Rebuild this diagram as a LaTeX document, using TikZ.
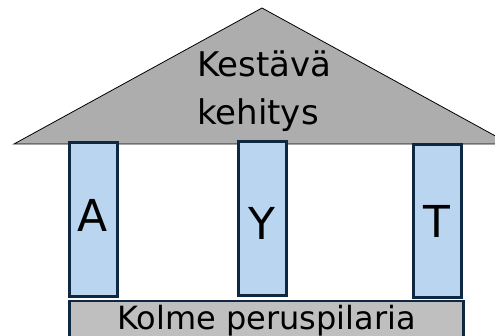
\documentclass[tikz,border=0pt]{standalone}
\usepackage{fontspec}
\setmainfont{DejaVu Sans}
\usetikzlibrary{positioning}
\definecolor{pillarblue}{HTML}{B9D5F0}
\definecolor{navyline}{HTML}{0E2841}
\definecolor{roofgray}{HTML}{ADADAD}
\definecolor{basegray}{HTML}{BFBFBF}
\tikzset{
    pillar/.style={
        rectangle, minimum width=48pt, minimum height=154pt, draw=navyline, line width=3pt, fill=pillarblue
    },
    letter/.style={
        inner sep=0pt, font=\fontsize{44}{44}\selectfont
    },
    foundation/.style={
        rectangle, minimum width=394pt, minimum height=40pt, draw=navyline, line width=2.5pt, fill=basegray, font=\fontsize{32}{32}\selectfont
    }
}

\begin{document}
\begin{tikzpicture}[x=1pt, y=-1pt]

    \useasboundingbox (0,0) rectangle (495,336);
    \clip (0,0) rectangle (495,336);

    % Roof
    \draw[fill=roofgray, line width=0.8pt] (14,144) -- (262,8) -- (510,144) -- cycle;
    \node[anchor=north west, align=left, inner sep=0pt, font=\fontsize{34}{48}\selectfont] (roof) at (197,51) {Kestävä\\kehitys};

    % Pillars
    \node[pillar] (env) at (93.5,219.5) {};
    \node[pillar] (soc) at (262.5,218.5) {};
    \node[pillar, minimum height=153pt] (eco) at (437.5,221) {};

    % Letters
    \node[letter, anchor=base] (envtext) at (93,232) {A};
    \node[letter, anchor=base] (soctext) at (262,240) {Y};
    \node[letter, anchor=base] (ecotext) at (437,238) {T};

    % Foundation
    \node[foundation] (base) at (266.5,321) {Kolme peruspilaria};

\end{tikzpicture}
\end{document}
